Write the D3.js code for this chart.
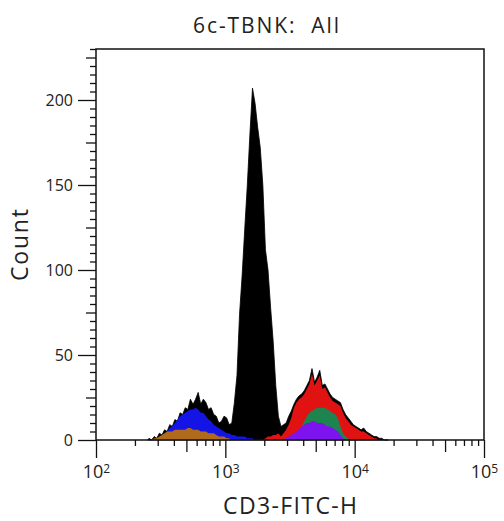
<!DOCTYPE html>
<html>
<head>
<meta charset="utf-8">
<script src="https://cdn.jsdelivr.net/npm/d3@7"></script>
<style>
  html, body { margin: 0; padding: 0; background: #fff; }
  svg { display: block; }
  text { font-family: "Open Sans", "Noto Sans", sans-serif; fill: #222; white-space: pre; }
</style>
</head>
<body>
<svg id="chart" width="504" height="521"></svg>
<script>
// ---- data ----
const title = "6c-TBNK:  All";
const xLabel = "CD3-FITC-H";
const yLabel = "Count";
const yTicks = [0, 50, 100, 150, 200];
const xTickExponents = [2, 3, 4, 5];
// histogram bins: log10 start and width of each bin
const binLogStart = 2.40;
const binLogWidth = 0.02;
// counts per bin (total population, black)
const countsAll = [1,0,2,1,4,3,6,5,9,8,12,11,16,15,19,18,24,21,24,28,21,24,22,18,19,15,14,10,11,14,13,9,10,22,38,74,97,124,150,180,207,198,184,172,150,112,100,78,58,32,14,8,9,10,14,17,21,24,26,27,29,32,35,42,34,37,41,32,33,30,27,25,24,23,22,18,15,13,11,9,8,7,6,7,5,4,3,2,2,1,1,0,0];
// sub-populations
const countsBlue = [0,0,0,0,1,2,3,5,7,8,10,12,14,15,16,17,18,18,19,18,16,16,14,12,11,9,8,7,6,5,4,4,3,3,2,2,2,2,1,1,1];
const countsBrown = [0,0,1,1,2,3,4,5,5,5,6,6,6,6,6,7,7,6,6,6,5,5,5,4,4,4,3,2,2,2,1,1];
const countsRed = [0,0,0,0,0,0,0,0,0,0,0,0,0,0,0,0,0,0,0,0,0,0,0,0,0,0,0,0,0,0,0,0,0,0,0,0,0,0,0,0,0,0,0,0,0,1,2,2,3,3,4,2,4,6,9,13,19,22,24,25,27,30,33,39,32,35,38,30,31,28,25,23,22,21,20,16,13,11,9,8,7,6,5,5,4,3,2,1,1];
const countsGreen = [0,0,0,0,0,0,0,0,0,0,0,0,0,0,0,0,0,0,0,0,0,0,0,0,0,0,0,0,0,0,0,0,0,0,0,0,0,0,0,0,0,0,0,0,0,0,0,0,0,0,0,0,0,0,0,0,1,3,5,8,11,14,16,17,18,19,19,19,19,18,17,16,15,13,8,4,2,1];
const countsPurple = [0,0,0,0,0,0,0,0,0,0,0,0,0,0,0,0,0,0,0,0,0,0,0,0,0,0,0,0,0,0,0,0,0,0,0,0,0,0,0,0,0,0,0,0,0,0,0,0,0,0,0,0,0,1,2,3,4,5,6,8,9,10,10,11,11,10,10,10,9,8,8,7,6,5,3,1];

const series = [
  { name: "All", counts: countsAll, color: "#000000" },
  { name: "Blue", counts: countsBlue, color: "#1414e6" },
  { name: "Brown", counts: countsBrown, color: "#b06a1c" },
  { name: "Red", counts: countsRed, color: "#e01212" },
  { name: "Green", counts: countsGreen, color: "#1d8450" },
  { name: "Purple", counts: countsPurple, color: "#7d14f0" }
];

// ---- layout ----
const svg = d3.select("#chart");
const L = 96, R = 484, T = 49, B = 440;

const x = d3.scaleLog().domain([100, 100000]).range([L, R]);
const y = d3.scaleLinear().domain([0, 230]).range([B, T]);

function pointsFor(counts) {
  const pts = [];
  pts.push([binLogStart, 0]);
  counts.forEach((c, i) => pts.push([binLogStart + (i + 0.5) * binLogWidth, c]));
  pts.push([binLogStart + counts.length * binLogWidth, 0]);
  return pts;
}

const area = d3.area()
  .x(d => x(Math.pow(10, d[0])))
  .y0(y(0))
  .y1(d => y(d[1]))
  .curve(d3.curveLinear);

const plot = svg.append("g");
series.forEach(s => {
  plot.append("path")
    .datum(pointsFor(s.counts))
    .attr("d", area)
    .attr("fill", s.color)
    .attr("stroke", s.name === "All" ? "#000" : "none")
    .attr("stroke-width", 0.8);
});

// ---- axes ----
const yMinor = d3.range(0, 231, 5).filter(v => v % 25 !== 0);
const yMid = d3.range(25, 231, 50);
svg.append("g").attr("transform", `translate(${L},0)`)
  .call(d3.axisLeft(y).tickValues(yMinor).tickSize(6).tickFormat(""))
  .call(g => g.select(".domain").remove());
svg.append("g").attr("transform", `translate(${L},0)`)
  .call(d3.axisLeft(y).tickValues(yMid).tickSize(10).tickFormat(""))
  .call(g => g.select(".domain").remove());
const yAxisG = svg.append("g").attr("transform", `translate(${L},0)`)
  .call(d3.axisLeft(y).tickValues(yTicks).tickSize(18).tickPadding(5).tickFormat(d3.format("d")))
  .call(g => g.select(".domain").remove());
yAxisG.selectAll("text").style("font-size", "16px").attr("dy", "0.35em");

const xMinor = [];
const xFive = [];
for (let e = 2; e < 5; e++) {
  for (let m = 2; m <= 9; m++) {
    if (m === 5) xFive.push(m * Math.pow(10, e)); else xMinor.push(m * Math.pow(10, e));
  }
}
svg.append("g").attr("transform", `translate(0,${B})`)
  .call(d3.axisBottom(x).tickValues(xMinor).tickSize(6).tickFormat(""))
  .call(g => g.select(".domain").remove());
svg.append("g").attr("transform", `translate(0,${B})`)
  .call(d3.axisBottom(x).tickValues(xFive).tickSize(12).tickFormat(""))
  .call(g => g.select(".domain").remove());
const xAxisG = svg.append("g").attr("transform", `translate(0,${B})`)
  .call(d3.axisBottom(x).tickValues(xTickExponents.map(e => Math.pow(10, e))).tickSize(18).tickFormat(""))
  .call(g => g.select(".domain").remove());
xAxisG.selectAll(".tick").each(function(d, i) {
  const t = d3.select(this).append("text")
    .attr("y", 38)
    .attr("text-anchor", "middle")
    .style("font-size", "18px")
    .attr("fill", "#222");
  t.append("tspan").text("10");
  t.append("tspan").text(xTickExponents[i]).style("font-size", "12px").attr("dy", "-5");
});
svg.selectAll(".tick line").attr("stroke", "#111").attr("stroke-width", 1.3);

// frame
svg.append("rect")
  .attr("x", L).attr("y", T).attr("width", R - L).attr("height", B - T)
  .attr("fill", "none").attr("stroke", "#111").attr("stroke-width", 1.5);

// ---- labels ----
svg.append("text").attr("x", 266).attr("y", 33).attr("text-anchor", "middle")
  .attr("textLength", 146).attr("lengthAdjust", "spacing")
  .style("font-size", "21px").text(title);
svg.append("text").attr("x", 290).attr("y", 514).attr("text-anchor", "middle")
  .attr("textLength", 134).attr("lengthAdjust", "spacing")
  .style("font-size", "23px").text(xLabel);
svg.append("text").attr("transform", "translate(28,245) rotate(-90)")
  .attr("text-anchor", "middle")
  .attr("textLength", 72).attr("lengthAdjust", "spacing")
  .style("font-size", "23px").text(yLabel);
</script>
</body>
</html>
